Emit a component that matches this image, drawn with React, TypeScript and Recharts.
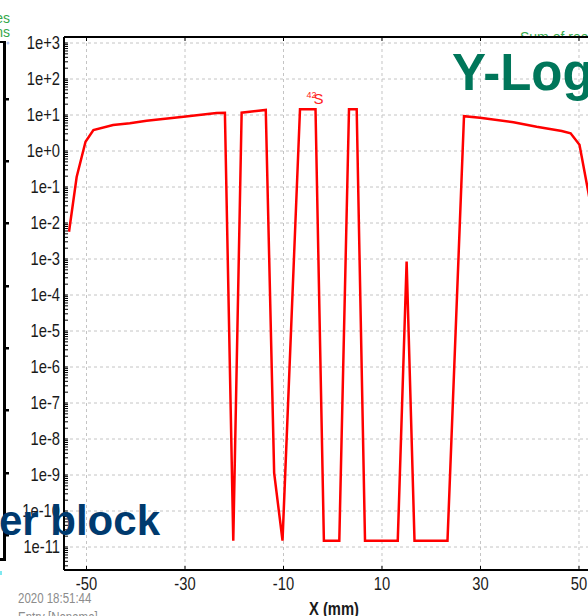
import React from 'react';
import { LineChart, Line, XAxis, YAxis, CartesianGrid, ReferenceDot } from 'recharts';

// Sum of reactions along X (mm), log scale
const positionsMm = [
  -53.55, -52.0, -50.2, -48.6, -44.6, -41.2, -37.8, -30.3, -23.6, -21.9,
  -20.2, -18.5, -13.6, -11.9, -10.2, -6.65, -3.5, -1.8, 1.33, 3.3,
  4.86, 6.55, 13.2, 15.0, 16.6, 23.3, 26.65, 29.9, 36.7, 41.4,
  46.5, 48.3, 50.1, 52.0, 53.6,
];
const sumValues = [
  5.7e-3, 0.19, 1.8, 3.8, 5.3, 5.9, 6.9, 8.9, 11.3, 11.5,
  1.5e-11, 11.6, 13.8, 1.15e-9, 1.5e-11, 14.4, 14.4, 1.5e-11, 1.5e-11, 14.4,
  14.4, 1.5e-11, 1.5e-11, 8.5e-4, 1.5e-11, 1.5e-11, 9.3, 8.4, 6.3, 4.7,
  3.6, 3.1, 1.5, 0.06, 3e-3,
];

const xTicks = [-50, -30, -10, 10, 30, 50];
const yTicks = [1e3, 1e2, 1e1, 1e0, 1e-1, 1e-2, 1e-3, 1e-4, 1e-5, 1e-6, 1e-7, 1e-8, 1e-9, 1e-10, 1e-11];
const yTickLabels = ['1e+3', '1e+2', '1e+1', '1e+0', '1e-1', '1e-2', '1e-3', '1e-4', '1e-5', '1e-6', '1e-7', '1e-8', '1e-9', '1e-10', '1e-11'];

const xDomain: [number, number] = [-54.57, 54.57];
const yDomain: [number, number] = [Math.pow(10, -11 - 23 / 36), Math.pow(10, 3 + 6 / 36)];

const peakLabel = { x: -3.5, y: 14.4, mass: '42', symbol: 'S' };

const data = positionsMm.map((x, i) => ({ x, v: sumValues[i] }));

// minor log ticks (2..9 x 10^k) inside the axis range
const minorTicks: number[] = [];
for (let k = -12; k <= 3; k++) {
  for (let m = 2; m <= 9; m++) {
    const v = m * Math.pow(10, k);
    if (v > yDomain[0] && v < yDomain[1]) minorTicks.push(v);
  }
}
const allYTicks = [...yTicks, ...minorTicks].sort((a, b) => b - a);

const sans = "'Liberation Sans', Arial, sans-serif";
const NARROW = 0.82;

const yLabel = (v: number) => {
  const i = yTicks.findIndex((t) => Math.abs(Math.log10(t) - Math.log10(v)) < 1e-6);
  return i >= 0 ? yTickLabels[i] : '';
};

// condensed tick text (Arial Narrow look)
const YTick = (props: any) => {
  const { x, y, payload } = props;
  const label = yLabel(payload.value);
  if (!label) return <g />;
  return (
    <text
      transform={`translate(${x},${y}) scale(${NARROW},1)`}
      textAnchor="end"
      dy="0.355em"
      fontSize={18}
      fill="#1a1a1a"
      fontFamily={sans}
    >
      {label}
    </text>
  );
};

const XTick = (props: any) => {
  const { x, y, payload } = props;
  return (
    <text
      transform={`translate(${x},${y}) scale(${NARROW},1)`}
      textAnchor="middle"
      dy="0.71em"
      fontSize={18}
      fill="#1a1a1a"
      fontFamily={sans}
    >
      {String(payload.value)}
    </text>
  );
};

const NoTick = () => <g />;

const PeakTag = (props: any) => {
  const vb = props.viewBox || {};
  const cx = (vb.x ?? 0) + (vb.width ?? 0) / 2;
  const cy = (vb.y ?? 0) + (vb.height ?? 0) / 2;
  return (
    <text fill="#ff2020" fontFamily={sans}>
      <tspan x={cx - 9} y={cy - 11} fontSize={9}>{peakLabel.mass}</tspan>
      <tspan x={cx - 2} y={cy - 5.5} fontSize={15}>{peakLabel.symbol}</tspan>
    </text>
  );
};

const stubYs = [99, 161, 223, 286, 348, 410, 473, 535];

export default function App() {
  return (
    <div style={{ position: 'fixed', left: 0, top: 0, width: 588, height: 616, overflow: 'hidden', background: '#fff' }}>
      <LineChart width={610} height={616} data={data} margin={{ top: 37, right: 8.5, bottom: 0, left: 0 }}>
        <CartesianGrid stroke="#c4c4c4" strokeDasharray="3 3" horizontalValues={yTicks} verticalValues={xTicks} />
        <XAxis
          dataKey="x"
          type="number"
          domain={xDomain}
          allowDataOverflow
          ticks={xTicks}
          interval={0}
          height={46}
          tickSize={-4}
          tickMargin={11}
          axisLine={{ stroke: '#000', strokeWidth: 2 }}
          tickLine={{ stroke: '#000' }}
          tick={<XTick />}
        />
        <XAxis
          xAxisId="top"
          dataKey="x"
          type="number"
          orientation="top"
          mirror
          domain={xDomain}
          allowDataOverflow
          ticks={xTicks}
          interval={0}
          tick={NoTick}
          tickSize={4}
          axisLine={{ stroke: '#000', strokeWidth: 2 }}
          tickLine={{ stroke: '#000' }}
        />
        <YAxis
          scale="log"
          type="number"
          domain={yDomain}
          allowDataOverflow
          ticks={allYTicks}
          interval={0}
          width={64}
          tickSize={-4}
          tickMargin={8}
          axisLine={{ stroke: '#000', strokeWidth: 2 }}
          tickLine={{ stroke: '#000' }}
          tick={<YTick />}
        />
        <Line
          type="linear"
          dataKey="v"
          stroke="#ff0000"
          strokeWidth={2.5}
          dot={false}
          isAnimationActive={false}
        />
        <ReferenceDot
          x={peakLabel.x}
          y={peakLabel.y}
          r={1}
          fill="none"
          stroke="none"
          label={<PeakTag />}
        />
      </LineChart>
      <svg width={588} height={616} style={{ position: 'absolute', left: 0, top: 0, pointerEvents: 'none' }}>
        <defs>
          <clipPath id="aboveFrame">
            <rect x={0} y={0} width={588} height={36} />
          </clipPath>
        </defs>
        {/* neighbouring panel frame */}
        <rect x={0} y={41} width={6} height={2} fill="#000" />
        <rect x={3} y={41} width={3} height={520} fill="#000" />
        <rect x={0} y={558} width={6} height={3} fill="#000" />
        {stubYs.map((y) => (
          <rect key={y} x={5} y={y - 1} width={4} height={2.5} fill="#000" />
        ))}
        <circle cx={8} cy={43} r={1.5} fill="#b8c8f0" />
        <rect x={0} y={571} width={2} height={4} fill="#7fe8f0" />
        <text x={10} y={23} textAnchor="end" fontSize={14} fill="#33a84a" fontFamily={sans}>es</text>
        <text x={10} y={37} textAnchor="end" fontSize={14} fill="#33a84a" fontFamily={sans}>ns</text>
        <text x={520} y={42} fontSize={14} fill="#33a84a" fontFamily={sans} clipPath="url(#aboveFrame)">Sum of reactions</text>
        <text x={452} y={90} fontSize={51} fontWeight="bold" fill="#00765a" fontFamily={sans}>Y-Log</text>
        <text x={160} y={535} textAnchor="end" fontSize={42} fontWeight="bold" fill="#003a6e" fontFamily={sans}>er block</text>
        <text transform={`translate(18,603) scale(${NARROW},1)`} fontSize={14} fill="#8c8c8c" fontFamily={sans}>2020  18:51:44</text>
        <text transform={`translate(18,622) scale(${NARROW},1)`} fontSize={14} fill="#8c8c8c" fontFamily={sans}>Entry  [Noname]</text>
        <text transform={`translate(334,615) scale(${NARROW},1)`} textAnchor="middle" fontSize={18} fontWeight="bold" fill="#1a1a1a" fontFamily={sans}>X (mm)</text>
      </svg>
    </div>
  );
}
